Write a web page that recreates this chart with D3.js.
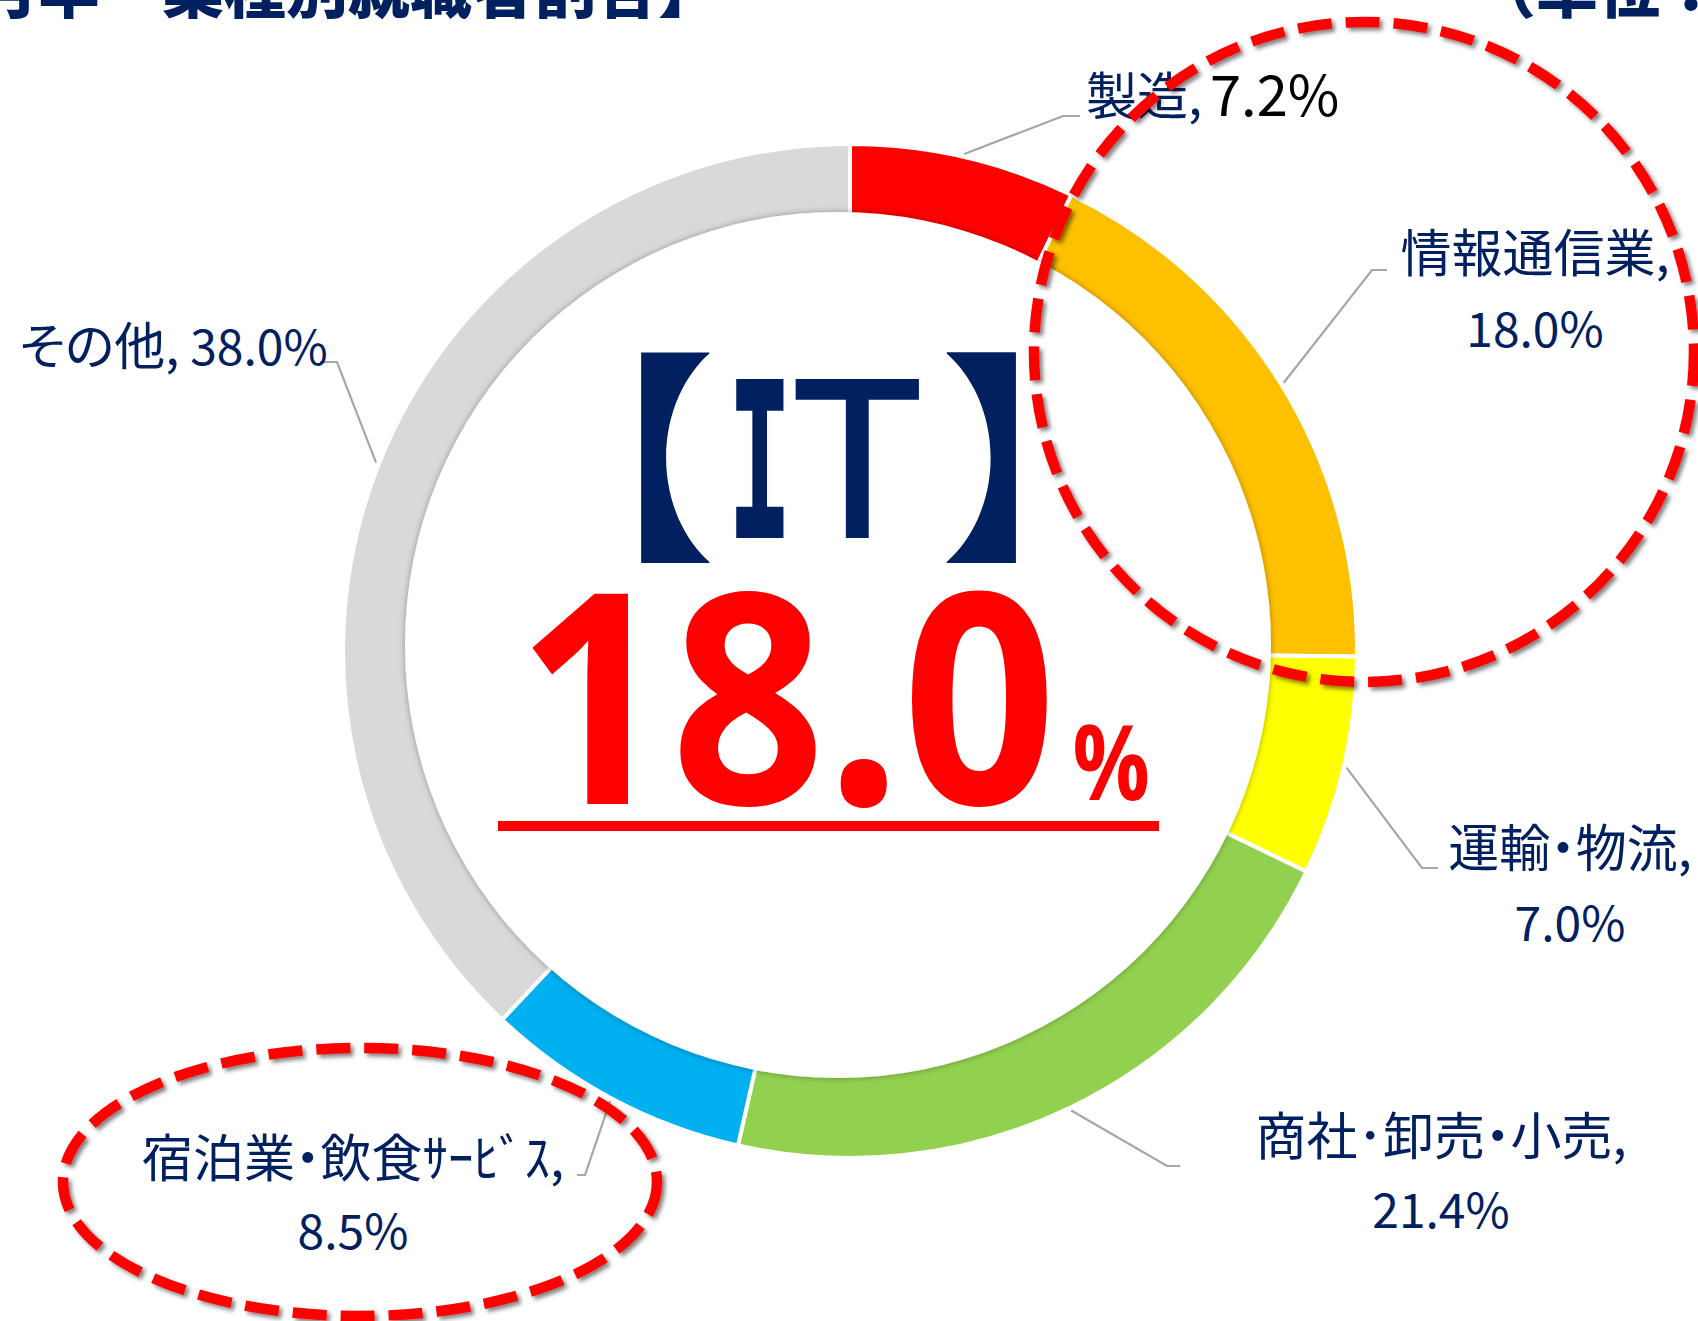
<!DOCTYPE html>
<html><head><meta charset="utf-8">
<script src="https://cdn.jsdelivr.net/npm/d3@7"></script>
<style>
html,body{margin:0;padding:0;background:#fff;}
svg{display:block;}
svg text{font-family:"Noto Sans CJK JP","Noto Sans",sans-serif;}
</style></head><body>
<svg id="chart" width="1698" height="1321"></svg>
<script>
// ---- data ----
const categories = ["製造","情報通信業","運輸・物流","商社･卸売・小売","宿泊業・飲食ｻｰﾋﾞｽ","その他"];
const values = [7.2, 18.0, 7.0, 21.4, 8.5, 38.0];
const highlightLabel = ["【","Ｉ","Ｔ","】"];
const highlightValue = 18.0;
const titleText = "【2020年3月卒　業種別就職者割合】";
const unitText = "（単位：％）";

// ---- styles / layout ----
const palette = ["#FF0000","#FFC000","#FFFF00","#92D050","#00B0F0","#D9D9D9"];
const navy = "#002060";
const CJK = '"Noto Sans CJK JP"';
const W = 1698, H = 1321;
const cx = 850, cy = 651, R = 507;
const labelLayout = [
  {mode:"inline", x:1086, y:115, bend:[1063,116], end:[1080,116]},
  {mode:"two", x:1535, y:[272,347], bend:[1372,270], end:[1387,270]},
  {mode:"two", x:1570, y:[867,941], bend:[1422,868], end:[1438,868]},
  {mode:"two", x:1441, y:[1155,1228], bend:[1167,1166], end:[1180,1166]},
  {mode:"two", x:353, y:[1177,1249], bend:[585,1175], end:[577,1175]},
  {mode:"one", x:19, y:365, bend:[337,362], end:[320,362]}
];
// ink boxes of the central headline glyphs
const headBoxes = [
  {x0:641, x1:711, y0:352, y1:564, w:700},
  {x0:736, x1:784, y0:379, y1:538, w:800},
  {x0:795, x1:920, y0:379, y1:538, w:500},
  {x0:945, x1:1016, y0:352, y1:564, w:700}
];
const valueBox = {x0:530, x1:1048, y0:589, y1:807};
const pctBox = {x0:1075, x1:1148, y0:724, y1:801};

const svg = d3.select("#chart");
const defs = svg.append("defs");
const f1 = defs.append("filter").attr("id","innerShadow").attr("x","-10%").attr("y","-10%").attr("width","120%").attr("height","120%");
f1.append("feDropShadow").attr("dx",0).attr("dy",0).attr("stdDeviation",3).attr("flood-color","#000").attr("flood-opacity",0.35);
const f2 = defs.append("filter").attr("id","dashShadow").attr("x","-10%").attr("y","-10%").attr("width","120%").attr("height","120%");
f2.append("feDropShadow").attr("dx",3).attr("dy",3).attr("stdDeviation",2.2).attr("flood-color","#000").attr("flood-opacity",0.5);

svg.append("rect").attr("width",W).attr("height",H).attr("fill","#fff");

// canvas-based ink measurement for fitting glyphs into boxes
const ctx = document.createElement("canvas").getContext("2d");
function fitText(parent, str, family, weight, box, fill) {
  ctx.font = `${weight} 100px ${family}`;
  const m = ctx.measureText(str);
  const inkW = m.actualBoundingBoxLeft + m.actualBoundingBoxRight;
  const inkH = m.actualBoundingBoxAscent + m.actualBoundingBoxDescent;
  const size = 100 * (box.y1 - box.y0) / inkH;
  const k = size / 100;
  const sx = (box.x1 - box.x0) / (inkW * k);
  parent.append("text")
    .attr("transform", `translate(${box.x0},${box.y0}) scale(${sx},1)`)
    .attr("x", m.actualBoundingBoxLeft * k)
    .attr("y", m.actualBoundingBoxAscent * k)
    .style("font-family", family).style("font-weight", weight)
    .attr("font-size", size).attr("fill", fill).text(str);
}

// title (cut at top)
svg.append("text").attr("x",720).attr("y",13).attr("text-anchor","end")
  .attr("font-size",62).attr("font-weight",900).attr("fill",navy).text(titleText);
svg.append("text").attr("x",1474).attr("y",13).attr("text-anchor","start")
  .attr("font-size",62).attr("font-weight",900).attr("fill",navy).text(unitText);

const color = d3.scaleOrdinal(categories, palette);
const pie = d3.pie().sort(null).value(d => d.v);
const arcs = pie(categories.map((c,i)=>({c, v:values[i]})));
const arc = d3.arc().innerRadius(390).outerRadius(R);

const g = svg.append("g").attr("transform",`translate(${cx},${cy})`);
g.selectAll("path.slice").data(arcs).join("path")
  .attr("class","slice")
  .attr("d",arc)
  .attr("fill",d=>color(d.data.c))
  .attr("stroke","#fff").attr("stroke-width",4);

// white inner disc with soft shadow
svg.append("circle").attr("cx",838).attr("cy",645).attr("r",433)
  .attr("fill","#fff").attr("filter","url(#innerShadow)");

// leader lines
const lines = svg.append("g").attr("fill","none").attr("stroke","#A6A6A6").attr("stroke-width",2.2);
arcs.forEach((d,i)=>{
  const a = (d.startAngle + d.endAngle)/2;
  const p0 = [cx + (R+3)*Math.sin(a), cy - (R+3)*Math.cos(a)];
  const L = labelLayout[i];
  lines.append("path").attr("d", d3.line()([p0, L.bend, L.end]));
});

// labels
const lbl = svg.append("g").attr("fill",navy).attr("font-size",48)
  .style("font-feature-settings","'palt' 1");
arcs.forEach((d,i)=>{
  const L = labelLayout[i];
  const name = d.data.c, pct = d.data.v.toFixed(1) + "%";
  if (L.mode === "inline") {
    lbl.append("text").attr("x",L.x).attr("y",L.y).attr("font-size",51).text(name + ",");
    lbl.append("text").attr("x",L.x+124).attr("y",L.y+1).attr("fill","#000").attr("font-size",56).text(pct);
  } else if (L.mode === "two") {
    lbl.append("text").attr("x",L.x).attr("y",L.y[0]).attr("text-anchor","middle").attr("font-size",51).text(name + ",");
    lbl.append("text").attr("x",L.x).attr("y",L.y[1]).attr("text-anchor","middle").text(pct);
  } else {
    const t = lbl.append("text").attr("x",L.x).attr("y",L.y);
    t.append("tspan").attr("font-size",51).text(name + ",");
    t.append("tspan").text(" " + pct);
  }
});

// center highlight
const hg = svg.append("g");
highlightLabel.forEach((ch,i)=>{
  const b = headBoxes[i];
  fitText(hg, ch, CJK, b.w, b, navy);
});
fitText(svg, highlightValue.toFixed(1), '"Open Sans"', 700, valueBox, "#FF0000");
fitText(svg, "%", '"Open Sans"', 700, pctBox, "#FF0000");
svg.append("rect").attr("x",498).attr("y",821).attr("width",661).attr("height",10).attr("fill","#FF0000");

// dashed highlight ellipses
const dash = svg.append("g").attr("fill","none").attr("stroke","#FF0000").attr("stroke-width",10.5)
  .attr("stroke-dasharray","34 14").attr("filter","url(#dashShadow)");
dash.append("ellipse").attr("cx",1364).attr("cy",352).attr("rx",330).attr("ry",330);
dash.append("ellipse").attr("cx",360).attr("cy",1182).attr("rx",297).attr("ry",134);
</script>
</body></html>
